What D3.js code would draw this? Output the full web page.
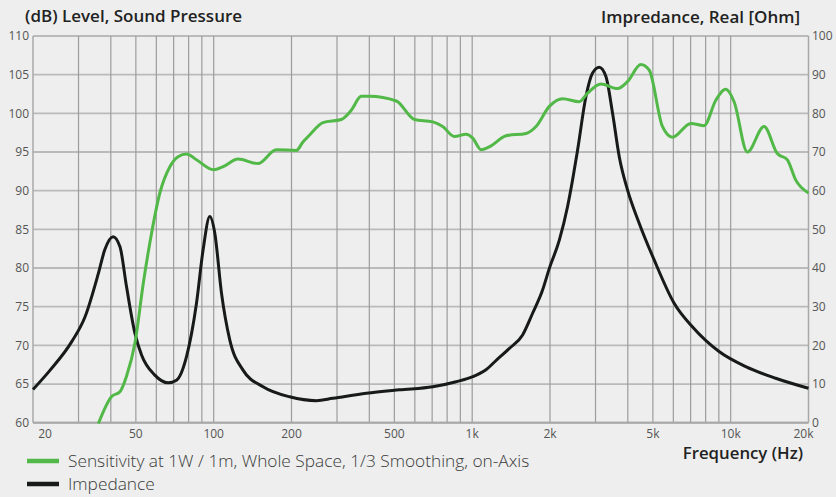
<!DOCTYPE html>
<html><head><meta charset="utf-8">
<script src="https://cdn.jsdelivr.net/npm/d3@7"></script>
<style>
html,body{margin:0;padding:0;background:#edeeed;}
svg{display:block;font-family:"Open Sans","Noto Sans",sans-serif;}
</style></head><body>
<svg id="c" width="836" height="497"></svg>
<script>
// ---- data ----
const splFreq = [35.8,40.3,43.4,46,49.6,53.4,57.5,61.9,67.7,72.8,78.5,85.8,100,108.7,124.2,148.3,174.8,208.7,221.5,235.1,264.6,311.6,340.6,372.4,401,508.5,598,704,769,853.7,947.6,1004.7,1082,1183,1352,1616,1766,1988,2238,2597,2795,3148,3650,3989,4494,4837,5445,5953,7013,7889,8759,9571,10307,11600,13459,15147,16557,17835,20000];
const splDb   = [59.9,63.4,64.0,66.0,70.3,78.0,84.5,89.7,93.1,94.4,94.75,94.0,92.7,93.1,94.1,93.5,95.3,95.2,96.3,97.2,98.8,99.2,100.4,102.2,102.2,101.6,99.2,98.9,98.3,97.0,97.3,96.8,95.3,95.8,97.1,97.4,98.3,100.9,101.9,101.5,102.6,103.8,103.2,104.1,106.3,105.6,98.3,96.9,98.7,98.4,101.7,103.1,101.5,95.0,98.3,94.8,94.0,91.4,89.7];
const impFreq = [20,23.3,28.2,31.8,35.8,37.9,40.8,43.4,46,49.6,52.6,59.2,66.6,71.8,78.5,85.8,91,96.6,101,107.2,115.4,129.9,155.2,196.7,249.5,289,389.4,523.6,704,866.9,1005,1131,1250,1393,1567,1713,1872,1988,2173,2339,2446,2557,2754,2922,3101,3291,3492,3706,3989,4426,5058,6043,7109,9016,11428,14925,20000];
const impOhm  = [8.6,13.6,20.9,27.4,38.6,44.7,48.1,45.5,35.2,23.1,17.5,12.3,10.3,11.0,17.1,30.9,44.7,53.3,49.0,33.5,21.4,13.6,9.3,6.7,5.7,6.3,7.6,8.5,9.3,10.6,11.9,13.7,16.4,19.2,22.7,28.3,34.3,39.9,47.2,55.9,62.8,70.5,84.3,90.4,91.9,89.5,80.0,68.8,60.2,51.6,42.1,30.9,24.8,18.4,14.5,11.5,8.9];
const xTickVals   = [20,50,100,200,500,1000,2000,5000,10000,20000];
const xTickLabels = ["20","50","100","200","500","1k","2k","5k","10k","20k"];
const gridFreqs   = [30,40,50,60,70,80,90,100,200,300,400,500,600,700,800,900,1000,2000,3000,4000,5000,6000,7000,8000,9000,10000];
const leftTicks   = [60,65,70,75,80,85,90,95,100,105,110];
const rightTicks  = [0,10,20,30,40,50,60,70,80,90,100];
const legendLabels = ["Sensitivity at 1W / 1m, Whole Space, 1/3 Smoothing, on-Axis","Impedance"];

// ---- layout ----
const L=33, R=808.5, T=36, B=422.7;
const green="#52b848", black="#171a19";
const svg=d3.select("#c");
const x=d3.scaleLog().domain([20,20000]).range([L,R]);
const yL=d3.scaleLinear().domain([60,110]).range([B,T]);
const yR=d3.scaleLinear().domain([0,100]).range([B,T]);

// horizontal grid
svg.append("g").selectAll("line").data(leftTicks).join("line")
  .attr("x1",L).attr("x2",R).attr("y1",d=>yL(d)).attr("y2",d=>yL(d))
  .attr("stroke","#bababa").attr("stroke-width",1.8);
// vertical grid
svg.append("g").selectAll("line").data(gridFreqs).join("line")
  .attr("x1",d=>x(d)).attr("x2",d=>x(d)).attr("y1",T).attr("y2",B)
  .attr("stroke","#9c9c9c").attr("stroke-width",1.2);
// frame
svg.append("line").attr("x1",L).attr("x2",L).attr("y1",T).attr("y2",B).attr("stroke","#a8a8a8").attr("stroke-width",1.5);
svg.append("line").attr("x1",R).attr("x2",R).attr("y1",T).attr("y2",B).attr("stroke","#a8a8a8").attr("stroke-width",1.5);
svg.append("line").attr("x1",L).attr("x2",R).attr("y1",B).attr("y2",B).attr("stroke","#a8a8a8").attr("stroke-width",2);

// axis labels
const tickCol="#555";
svg.append("g").selectAll("text").data(leftTicks).join("text")
  .attr("x",29).attr("y",d=>yL(d)).attr("dy","0.35em").attr("text-anchor","end")
  .attr("font-size",12).attr("fill",tickCol).text(d=>d);
svg.append("g").selectAll("text").data(rightTicks).join("text")
  .attr("x",812).attr("y",d=>yR(d)).attr("dy","0.35em").attr("text-anchor","start")
  .attr("font-size",12).attr("fill",tickCol).text(d=>d);
svg.append("g").selectAll("text").data(xTickVals).join("text")
  .attr("x",d=>Math.min(Math.max(x(d),L+12),R-5)).attr("y",437.5).attr("text-anchor","middle")
  .attr("font-size",12).attr("fill",tickCol).text((d,i)=>xTickLabels[i]);

// titles
svg.append("text").attr("x",25).attr("y",22).attr("font-size",17).attr("font-weight",600).attr("fill","#222").text("(dB) Level, Sound Pressure");
svg.append("text").attr("x",800).attr("y",23).attr("text-anchor","end").attr("font-size",17).attr("font-weight",600).attr("fill","#222").text("Impredance, Real [Ohm]");
svg.append("text").attr("x",803).attr("y",459).attr("text-anchor","end").attr("font-size",16.8).attr("font-weight",600).attr("fill","#222").text("Frequency (Hz)");

// curves
const lineL=d3.line().x(d=>x(d[0])).y(d=>yL(d[1])).curve(d3.curveMonotoneX);
const lineR=d3.line().x(d=>x(d[0])).y(d=>yR(d[1])).curve(d3.curveMonotoneX);
svg.append("path").attr("d",lineR(impFreq.map((f,i)=>[f,impOhm[i]])))
  .attr("fill","none").attr("stroke",black).attr("stroke-width",3).attr("stroke-linejoin","round");
svg.append("path").attr("d",lineL(splFreq.map((f,i)=>[f,splDb[i]])))
  .attr("fill","none").attr("stroke",green).attr("stroke-width",3).attr("stroke-linejoin","round");

// legend
const lg=svg.append("g");
[green,black].forEach((c,i)=>{
  const yy=461+i*23;
  lg.append("line").attr("x1",27).attr("x2",59).attr("y1",yy).attr("y2",yy).attr("stroke",c).attr("stroke-width",4.5);
  lg.append("text").attr("x",68).attr("y",yy).attr("dy","0.35em").attr("font-size",17.3).attr("font-weight",300).attr("fill","#3a3a3a").text(legendLabels[i]);
});
</script></body></html>
